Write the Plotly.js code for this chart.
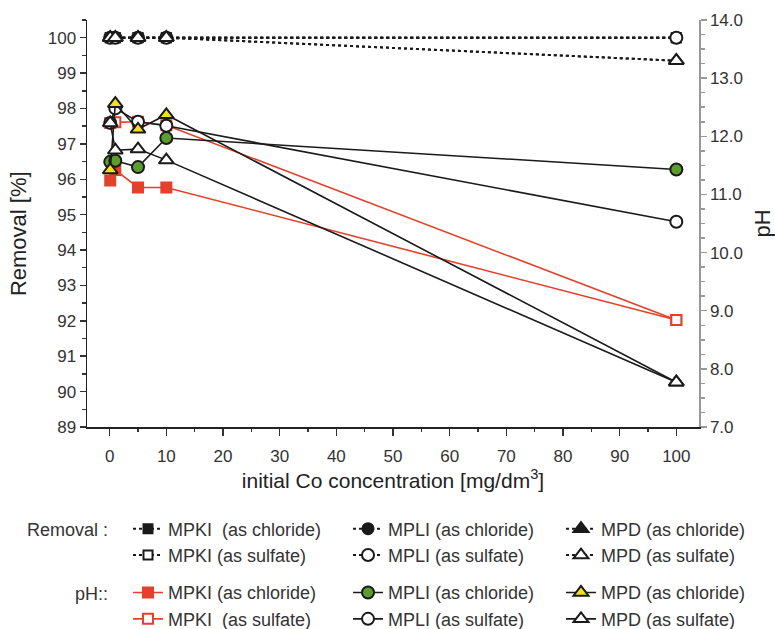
<!DOCTYPE html>
<html><head><meta charset="utf-8">
<script src="https://cdn.plot.ly/plotly-3.0.1.min.js"></script>
<style>html,body{margin:0;padding:0;background:#fff}#chart{width:775px;height:629px}</style>
</head><body><div id="chart"></div>
<script>
// initial Co concentration [mg/dm3]
const conc = [0.1, 1, 5, 10, 100];

// Removal [%]
const remMPKIchl = [100, 100, 100, 100, 100];
const remMPKIsul = [100, 100, 100, 100, 100];
const remMPLIchl = [100, 100, 100, 100, 100];
const remMPLIsul = [100, 100, 100, 100, 100];
const remMPDchl  = [100, 100, 100, 100, 99.35];
const remMPDsul  = [100, 100, 100, 100, 99.35];

// pH
const phMPKIchl = [11.24, 11.42, 11.12, 11.12, 8.84];
const phMPKIsul = [12.23, 12.24, 12.25, 12.19, 8.84];
const phMPLIchl = [11.56, 11.58, 11.47, 11.97, 11.43];
const phMPLIsul = [12.23, 12.48, 12.25, 12.18, 10.53];
const phMPDchl  = [11.42, 12.56, 12.12, 12.37, 7.77];
const phMPDsul  = [12.23, 11.76, 11.78, 11.59, 7.77];

const xTicks = [0, 10, 20, 30, 40, 50, 60, 70, 80, 90, 100];

const RED = '#e4402a', GREEN = '#5c9e2e', YEL = '#f2e21c', BLK = '#1a1a1a';
const FONT = 'Liberation Sans, Arial, Helvetica, sans-serif';

function rem(name, y, symbol, fill, size, legend) {
  return {x: conc, y: y, name: name, type: 'scatter', mode: 'lines+markers', yaxis: 'y',
    legend: legend, legendgroup: 'rem',
    line: {color: BLK, width: 2, dash: 'dot'},
    marker: {symbol: symbol, size: size, color: fill, line: {color: BLK, width: 2}}};
}
function ph(name, y, symbol, fill, size, lcol, mline, legend) {
  return {x: conc, y: y, name: name, type: 'scatter', mode: 'lines+markers', yaxis: 'y2',
    legend: legend, legendgroup: 'ph',
    line: {color: lcol, width: 1.6},
    marker: {symbol: symbol, size: size, color: fill, line: {color: mline, width: 2}}};
}

const data = [
  rem('MPKI\u00a0 (as chloride)', remMPKIchl, 'square', BLK, 9, 'legend'),
  rem('MPKI (as sulfate)', remMPKIsul, 'square', '#fff', 9, 'legend'),
  rem('MPLI (as chloride)', remMPLIchl, 'circle', BLK, 11, 'legend2'),
  rem('MPLI (as sulfate)', remMPLIsul, 'circle', '#fff', 12, 'legend2'),
  rem('MPD (as chloride)', remMPDchl, 'triangle-up', BLK, 13, 'legend3'),
  rem('MPD (as sulfate)', remMPDsul, 'triangle-up', '#fff', 13, 'legend3'),
  ph('MPKI (as chloride)', phMPKIchl, 'square', RED, 10, RED, RED, 'legend'),
  ph('MPKI\u00a0 (as sulfate)', phMPKIsul, 'square', '#fff', 10, RED, RED, 'legend'),
  ph('MPLI (as chloride)', phMPLIchl, 'circle', GREEN, 12, BLK, BLK, 'legend2'),
  ph('MPLI (as sulfate)', phMPLIsul, 'circle', '#fff', 12, BLK, BLK, 'legend2'),
  ph('MPD (as chloride)', phMPDchl, 'triangle-up', YEL, 13, BLK, BLK, 'legend3'),
  ph('MPD (as sulfate)', phMPDsul, 'triangle-up', '#fff', 13, BLK, BLK, 'legend3')
];

function leg(x) {
  return {x: x, y: -0.205, xanchor: 'left', yanchor: 'top', orientation: 'v',
    tracegroupgap: 11, font: {family: FONT, size: 18, color: '#333'},
    bgcolor: 'rgba(0,0,0,0)', borderwidth: 0, itemwidth: 30, traceorder: 'grouped'};
}

const layout = {
  width: 775, height: 629,
  margin: {l: 87, r: 76, t: 20, b: 202, autoexpand: false},
  paper_bgcolor: '#fff', plot_bgcolor: '#fff',
  font: {family: FONT, color: '#333'},
  showlegend: true,
  xaxis: {range: [-4, 104], tickvals: xTicks, ticks: 'outside', ticklen: 7, tickwidth: 1.5,
    tickcolor: '#333', showline: true, linecolor: '#222', linewidth: 1.5, showgrid: false,
    zeroline: false, tickfont: {size: 17, color: '#333'}, ticklabelstandoff: 6,
    minor: {dtick: 5, tick0: 0, ticks: 'outside', ticklen: 3, tickcolor: '#333', tickwidth: 1.5},
    title: {text: 'initial Co concentration [mg/dm<sup>3</sup>]', font: {size: 21, color: '#222'}, standoff: 8}},
  yaxis: {range: [89, 100.5], dtick: 1, tick0: 89, ticks: 'outside', ticklen: 6, tickwidth: 1.5,
    tickcolor: '#333', showline: true, linecolor: '#222', linewidth: 1.5, showgrid: false,
    zeroline: false, tickfont: {size: 17, color: '#333'},
    minor: {dtick: 0.5, tick0: 89, ticks: 'outside', ticklen: 4, tickcolor: '#333', tickwidth: 1.5}},
  yaxis2: {overlaying: 'y', side: 'right', range: [7, 14], dtick: 1, tick0: 7, tickformat: '.1f',
    ticks: 'outside', ticklen: 6, tickwidth: 1.5, tickcolor: '#999', showline: true,
    linecolor: '#999', linewidth: 1.5, showgrid: false, zeroline: false,
    tickfont: {size: 17, color: '#333'},
    minor: {dtick: 0.25, tick0: 7, ticks: 'outside', ticklen: 4, tickcolor: '#999', tickwidth: 1.5},
    title: {text: 'pH', font: {size: 22, color: '#222'}, standoff: 12}},
  legend: leg(0.067),
  legend2: leg(0.4265),
  legend3: leg(0.7745),
  annotations: [
    {text: 'Removal [%]', xref: 'paper', yref: 'paper', x: -0.1127, y: 0.474, xanchor: 'center', yanchor: 'middle', textangle: -90, showarrow: false, font: {size: 22, color: '#222'}},
    {text: 'Removal :', xref: 'paper', yref: 'paper', x: 0.038, y: -0.253, xanchor: 'right', yanchor: 'middle', showarrow: false, font: {size: 18, color: '#333'}},
    {text: 'pH::', xref: 'paper', yref: 'paper', x: 0.038, y: -0.41, xanchor: 'right', yanchor: 'middle', showarrow: false, font: {size: 18, color: '#333'}}
  ]
};

Plotly.newPlot('chart', data, layout, {displayModeBar: false, staticPlot: true});
</script></body></html>
